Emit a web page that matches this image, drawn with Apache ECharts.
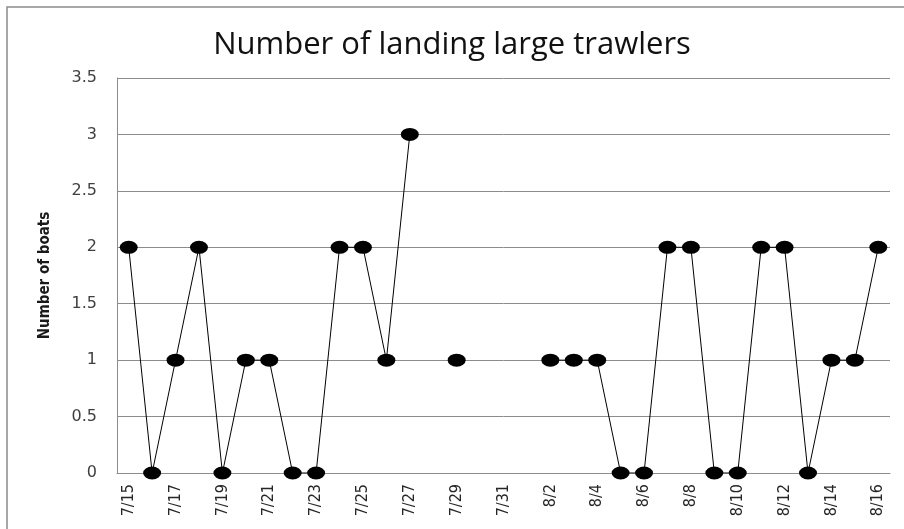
<!DOCTYPE html>
<html>
<head>
<meta charset="utf-8">
<title>Number of landing large trawlers</title>
<script src="https://cdn.jsdelivr.net/npm/echarts@6/dist/echarts.min.js"></script>
<style>
  html, body { margin: 0; padding: 0; background: #fff; }
  #chart { width: 904px; height: 529px; }
</style>
</head>
<body>
<div id="chart"></div>
<script>
// Daily landing dates, 15 July to 16 August
const dates = [
  '7/15', '7/16', '7/17', '7/18', '7/19', '7/20', '7/21', '7/22', '7/23', '7/24',
  '7/25', '7/26', '7/27', '7/28', '7/29', '7/30', '7/31', '8/1', '8/2', '8/3',
  '8/4', '8/5', '8/6', '8/7', '8/8', '8/9', '8/10', '8/11', '8/12', '8/13',
  '8/14', '8/15', '8/16'
];

// Number of large trawlers landing each day (null = no record)
const boats = [
  2, 0, 1, 2, 0, 1, 1, 0, 0, 2,
  2, 1, 3, null, 1, null, null, null, 1, 1,
  1, 0, 0, 2, 2, 0, 0, 2, 2, 0,
  1, 1, 2
];

// Value axis ticks
const yTicks = [0, 0.5, 1, 1.5, 2, 2.5, 3, 3.5];

const chart = echarts.init(document.getElementById('chart'), null, { renderer: 'canvas' });

chart.setOption({
  backgroundColor: '#ffffff',
  animation: false,
  title: {
    text: 'Number of landing large trawlers',
    left: 'center',
    top: 25,
    textStyle: {
      fontFamily: 'Open Sans',
      fontSize: 31,
      fontWeight: 'normal',
      color: '#111111'
    }
  },
  graphic: [{
    type: 'rect',
    shape: { x: 7, y: 7, width: 920, height: 540 },
    style: { fill: 'none', stroke: '#8c8c8c', lineWidth: 1.5 },
    silent: true
  }],
  grid: { left: 117, right: 14, top: 78, bottom: 56 },
  xAxis: {
    type: 'category',
    data: dates,
    boundaryGap: true,
    axisLine: { show: true, lineStyle: { color: '#8c8c8c', width: 1 } },
    axisTick: { show: false },
    axisLabel: {
      interval: 1,
      rotate: 90,
      margin: 11,
      fontFamily: 'Liberation Sans Narrow, DejaVu Sans Condensed, sans-serif',
      fontSize: 16,
      color: '#262626'
    },
    splitLine: { show: false }
  },
  yAxis: {
    type: 'value',
    min: yTicks[0],
    max: yTicks[yTicks.length - 1],
    interval: 0.5,
    name: 'Number of boats',
    nameLocation: 'middle',
    nameGap: 64,
    nameRotate: 90,
    nameTextStyle: {
      fontFamily: 'Liberation Sans Narrow, DejaVu Sans Condensed, sans-serif',
      fontSize: 15,
      fontWeight: 'bold',
      color: '#1a1a1a'
    },
    axisLine: { show: true, lineStyle: { color: '#8c8c8c', width: 1 } },
    axisTick: { show: false },
    axisLabel: {
      margin: 20,
      fontFamily: 'DejaVu Sans, sans-serif',
      fontSize: 16,
      color: '#404040',
      formatter: v => String(v)
    },
    splitLine: { show: true, lineStyle: { color: '#8c8c8c', width: 1 } }
  },
  series: [{
    type: 'line',
    data: boats,
    connectNulls: false,
    symbol: 'circle',
    symbolSize: [18, 13],
    showAllSymbol: true,
    itemStyle: { color: '#000000' },
    lineStyle: { color: '#000000', width: 1 },
    z: 3
  }]
});
</script>
</body>
</html>
